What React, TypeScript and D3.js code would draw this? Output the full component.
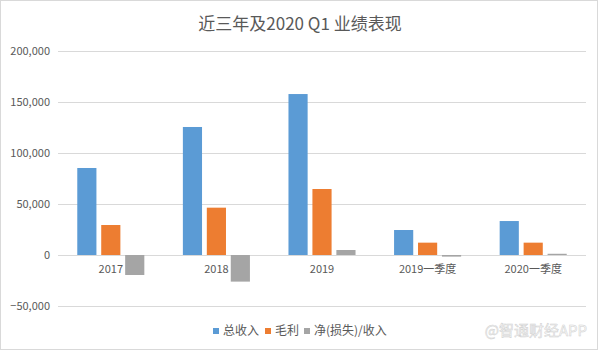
import React, { useEffect, useRef } from "react";
import * as d3 from "d3";

const categories = ["2017", "2018", "2019", "2019一季度", "2020一季度"];
const seriesNames = ["总收入", "毛利", "净(损失)/收入"];
const totalRevenue = [85300, 125500, 157800, 24500, 33300];
const grossProfit = [29400, 46400, 64700, 12100, 12100];
const netIncome = [-19600, -26100, 4900, -1600, 1200];
const yTicks = [-50000, 0, 50000, 100000, 150000, 200000];
const colors = ["#5b9bd5", "#ed7d31", "#a5a5a5"];

const W = 601;
const H = 351;
const FONT = "'Noto Sans CJK SC', 'Noto Sans', sans-serif";

export default function App() {
  const ref = useRef<SVGSVGElement>(null);

  useEffect(() => {
    const svg = d3.select(ref.current);
    svg.selectAll("*").remove();

    const series = [totalRevenue, grossProfit, netIncome];
    const left = 58, right = 586, top = 51, bottom = 306;

    const x = d3.scaleBand<string>().domain(categories).range([left, right]).padding(0);
    const y = d3.scaleLinear().domain([-50000, 200000]).range([bottom, top]);
    const groupW = x.bandwidth() * 0.635;
    const xs = d3.scaleBand<number>().domain([0, 1, 2]).range([0, groupW]).paddingInner(0.2).paddingOuter(0);

    // frame
    svg.append("rect").attr("x", 0.5).attr("y", 0.5).attr("width", W - 4).attr("height", H - 2)
      .attr("fill", "#fff").attr("stroke", "#d9d9d9");

    // title
    svg.append("text").attr("x", 300).attr("y", 30).attr("text-anchor", "middle")
      .attr("font-family", FONT).attr("font-size", 17).attr("fill", "#595959")
      .text("近三年及2020 Q1 业绩表现");

    // gridlines + tick labels
    const fmt = d3.format(",");
    yTicks.forEach((t) => {
      svg.append("line").attr("x1", left).attr("x2", right)
        .attr("y1", Math.round(y(t)) + 0.5).attr("y2", Math.round(y(t)) + 0.5)
        .attr("stroke", "#d9d9d9").attr("stroke-width", 1);
      svg.append("text").attr("x", 50).attr("y", y(t)).attr("dy", "0.35em")
        .attr("text-anchor", "end").attr("font-family", FONT).attr("font-size", 11)
        .attr("fill", "#595959").text(fmt(t));
    });

    // bars
    categories.forEach((c, i) => {
      const gx = (x(c) as number) + (x.bandwidth() - groupW) / 2;
      series.forEach((s, j) => {
        const v = s[i];
        const y0 = y(0), y1 = y(v);
        svg.append("rect")
          .attr("x", gx + (xs(j) as number))
          .attr("y", Math.min(y0, y1))
          .attr("width", xs.bandwidth())
          .attr("height", Math.abs(y1 - y0))
          .attr("fill", colors[j]);
      });
      svg.append("text").attr("x", (x(c) as number) + x.bandwidth() / 2).attr("y", 273)
        .attr("text-anchor", "middle").attr("font-family", FONT).attr("font-size", 11)
        .attr("fill", "#595959").text(c);
    });

    // legend
    const legendX = [213, 265, 304];
    seriesNames.forEach((n, j) => {
      svg.append("rect").attr("x", legendX[j]).attr("y", 328).attr("width", 6).attr("height", 6)
        .attr("fill", colors[j]);
      svg.append("text").attr("x", legendX[j] + 10).attr("y", 331).attr("dy", "0.35em")
        .attr("font-family", FONT).attr("font-size", 12).attr("fill", "#595959").text(n);
    });

    // watermark
    svg.append("text").attr("x", 587).attr("y", 331).attr("dy", "0.35em").attr("text-anchor", "end")
      .attr("font-family", FONT).attr("font-size", 15).attr("fill", "#fafafa")
      .attr("stroke", "#d0d0d0").attr("stroke-width", 0.5)
      .text("@智通财经APP");
  }, []);

  return (
    <svg ref={ref} width={W} height={H}
      style={{ position: "absolute", left: 0, top: 0, background: "#fff" }} />
  );
}
